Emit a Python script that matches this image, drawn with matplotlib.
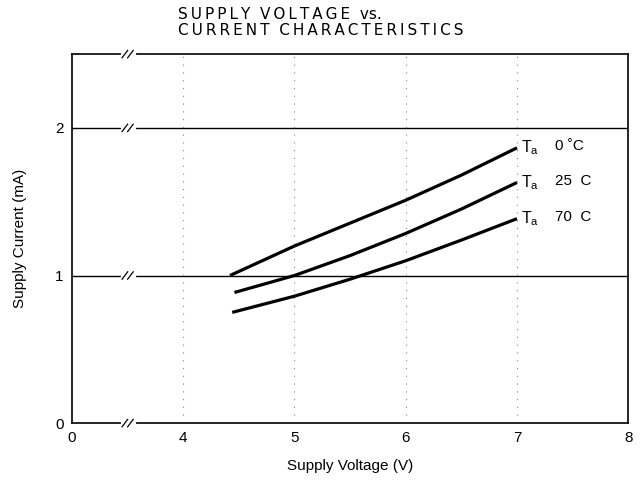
#%%############################################################################
# Supply voltage vs. supply current characteristics (data sheet style plot)
###############################################################################
import matplotlib
matplotlib.use('Agg')
import matplotlib.pyplot as plt

#%%############################################################################
# Data
###############################################################################
# The x axis is broken between 0 and 4, so position 3 carries the "0" label
xTicks = [3, 4, 5, 6, 7, 8]
xTickLabels = ['0', '4', '5', '6', '7', '8']
yTicks = [0, 1, 2]
yTickLabels = ['0', '1', '2']

voltage_0C = [4.42, 5.0, 5.5, 6.0, 6.5, 7.0]
current_0C = [1.00, 1.20, 1.355, 1.51, 1.68, 1.865]

voltage_25C = [4.46, 5.0, 5.5, 6.0, 6.5, 7.0]
current_25C = [0.885, 1.00, 1.135, 1.285, 1.45, 1.63]

voltage_70C = [4.44, 5.0, 5.5, 6.0, 6.5, 7.0]
current_70C = [0.75, 0.86, 0.975, 1.10, 1.24, 1.385]

curveLabels = ['0 \u02daC', '25  C', '70  C']

#%%############################################################################
# Plot
###############################################################################
plt.rcParams['font.family'] = ['Liberation Sans', 'DejaVu Sans']

def spaced(s):
    # letter-spaced caps, as in the printed heading
    return '\u2009'.join(s)

fig = plt.figure(figsize=(6.43, 4.83), dpi=100)
ax = fig.add_axes([0.112, 0.124, 0.865, 0.764])
ax.set_xlim(3, 8)
ax.set_ylim(0, 2.5)

# grid: solid horizontal lines, faint dotted vertical lines
for yv in [1, 2]:
    ax.axhline(yv, color='black', lw=1.0, zorder=1)
for xv in [4, 5, 6, 7]:
    ax.axvline(xv, color='#888888', lw=0.8, ls=(0, (1, 6)), zorder=1)

curves = [(voltage_0C, current_0C), (voltage_25C, current_25C), (voltage_70C, current_70C)]
for (v, c), lab in zip(curves, curveLabels):
    ax.plot(v, c, color='black', lw=2.3, solid_capstyle='butt', zorder=3)
    ax.text(v[-1] + 0.04, c[-1], r'T$_{\mathregular{a}}$', fontsize=11.5,
            ha='left', va='center')
    ax.text(v[-1] + 0.34, c[-1] + 0.01, lab, fontsize=11, ha='left', va='center')

# axis break marks at x = 3.5 on each horizontal line
for yv in [0, 1, 2, 2.5]:
    ax.plot([3.46, 3.56], [yv, yv], color='white', lw=3, zorder=4, clip_on=False)
    for dx in [3.45, 3.50]:
        ax.plot([dx, dx + 0.05], [yv - 0.025, yv + 0.025], color='black', lw=0.9,
                zorder=5, clip_on=False)

for s in ax.spines.values():
    s.set_linewidth(1.2)

ax.set_xticks(xTicks)
ax.set_xticklabels(xTickLabels, fontsize=11)
ax.set_yticks(yTicks)
ax.set_yticklabels(yTickLabels, fontsize=11)
ax.tick_params(length=0, pad=6)

ax.set_xlabel('Supply Voltage (V)', fontsize=11, labelpad=10)
ax.set_ylabel('Supply Current (mA)', fontsize=11, labelpad=20)

fig.text(0.277, 0.970, spaced('SUPPLY') + '  ' + spaced('VOLTAGE') + '  vs.',
         fontsize=11, ha='left', va='center', family='DejaVu Sans')
fig.text(0.277, 0.937, spaced('CURRENT') + '  ' + spaced('CHARACTERISTICS'),
         fontsize=11, ha='left', va='center', family='DejaVu Sans')

fig.savefig('out.png', dpi=100)
